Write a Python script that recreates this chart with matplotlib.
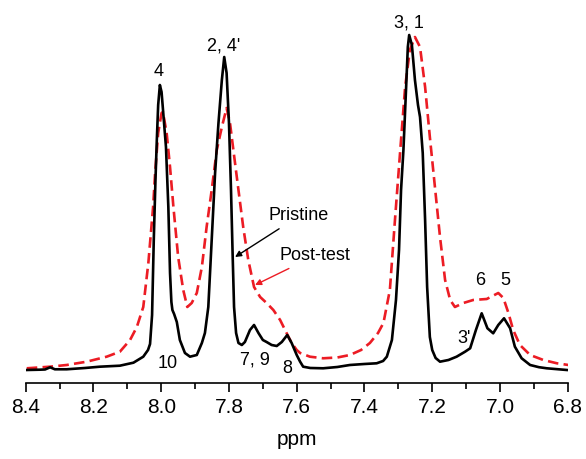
import matplotlib
matplotlib.use('Agg')
import matplotlib.pyplot as plt
from matplotlib.ticker import MultipleLocator

plt.rcParams['font.family'] = ['Liberation Sans', 'DejaVu Sans']

# ─── Spectra (chemical shift in ppm, intensity in arbitrary units) ─────
pristine_ppm = [8.397, 8.358, 8.343, 8.328, 8.314, 8.279, 8.225, 8.181, 8.122,
                8.082, 8.053, 8.039, 8.033, 8.027, 8.022, 8.017, 8.013, 8.009,
                8.004, 7.999, 7.994, 7.986, 7.979, 7.974, 7.970, 7.967, 7.962,
                7.954, 7.945, 7.930, 7.915, 7.895, 7.880, 7.871, 7.861, 7.851,
                7.841, 7.831, 7.821, 7.814, 7.807, 7.800, 7.794, 7.789, 7.785,
                7.779, 7.772, 7.762, 7.753, 7.738, 7.726, 7.713, 7.700, 7.689,
                7.674, 7.659, 7.644, 7.628, 7.615, 7.600, 7.590, 7.581, 7.560,
                7.522, 7.480, 7.443, 7.400, 7.364, 7.345, 7.334, 7.319, 7.307,
                7.298, 7.292, 7.285, 7.277, 7.272, 7.268, 7.260, 7.251, 7.242,
                7.236, 7.228, 7.221, 7.215, 7.207, 7.200, 7.190, 7.177, 7.152,
                7.128, 7.103, 7.088, 7.071, 7.054, 7.037, 7.020, 7.005, 6.988,
                6.970, 6.956, 6.936, 6.911, 6.885, 6.862, 6.803]
pristine_int = [0, 0.3, 0.5, 2.7, 0.7, 0.7, 2, 3.3, 4.3,
                7.3, 13.3, 20, 26, 55, 130, 190, 230, 265,
                285, 278, 257, 223, 163, 97, 68, 60, 56,
                48, 30, 17, 13.3, 15, 27, 37, 63, 130,
                197, 247, 290, 313, 297, 247, 180, 113, 63,
                37, 27, 25, 28, 40, 45, 37, 30, 28,
                25, 24, 28, 35, 27, 15, 8.3, 3.3, 2,
                1.7, 3, 5, 6, 6.7, 9, 13.3, 30, 70,
                120, 180, 220, 283, 323, 335, 325, 290, 265,
                253, 217, 150, 83, 33, 20, 12, 8.3, 10,
                13.3, 18.3, 21.7, 40, 56.7, 41.7, 36.7, 45, 51.7,
                41.7, 23.3, 11.7, 5, 2.8, 1.7, 0]

posttest_ppm = [8.397, 8.328, 8.279, 8.220, 8.161, 8.122, 8.092, 8.072, 8.053,
                8.038, 8.024, 8.018, 8.009, 7.999, 7.995, 7.984, 7.974, 7.964,
                7.950, 7.935, 7.923, 7.910, 7.895, 7.880, 7.866, 7.851, 7.836,
                7.821, 7.807, 7.797, 7.787, 7.772, 7.758, 7.743, 7.726, 7.708,
                7.689, 7.669, 7.649, 7.630, 7.615, 7.600, 7.590, 7.561, 7.522,
                7.480, 7.443, 7.410, 7.384, 7.360, 7.344, 7.325, 7.310, 7.295,
                7.280, 7.266, 7.251, 7.236, 7.221, 7.207, 7.192, 7.177, 7.162,
                7.147, 7.133, 7.108, 7.079, 7.039, 7.005, 6.990, 6.975, 6.961,
                6.941, 6.911, 6.872, 6.832, 6.798]
posttest_int = [1.7, 3.3, 5, 8.3, 13.3, 18.3, 30, 43, 63,
                107, 163, 197, 237, 257, 258, 237, 203, 163,
                113, 80, 63, 67, 77, 103, 143, 180, 220,
                243, 262, 247, 220, 180, 143, 110, 83, 73,
                67, 60, 50, 37, 27, 20, 17, 13.3, 11.7,
                12.5, 15, 20, 27, 37, 47, 80, 150, 217,
                283, 320, 333, 323, 283, 233, 183, 133, 90,
                70, 63, 67, 70, 71, 77, 72, 57, 40,
                25, 15, 10, 6.7, 5]

# ─── Figure ────────────────────────────────────────────────────────────
fig = plt.figure(figsize=(5.86, 4.59), dpi=100)
ax = fig.add_axes([0.0439, 0.1656, 0.9249, 0.8235])

red = '#ec1c24'
ax.plot(posttest_ppm, posttest_int, color=red, lw=1.9, dashes=(4, 2), zorder=2)
ax.plot(pristine_ppm, pristine_int, color='black', lw=1.9, zorder=3)

# peak assignments
peak_labels = [
    ('4', 8.009, 299), ('2, 4\'', 7.817, 324), ('3, 1', 7.270, 347),
    ('10', 7.981, 6), ('7, 9', 7.723, 10), ('8', 7.629, 1),
    ('3\'', 7.106, 31), ('6', 7.059, 89), ('5', 6.985, 89),
]
for txt, x, y in peak_labels:
    ax.text(x, y, txt, ha='center', va='center', fontsize=13)

# curve callouts
ax.annotate('Pristine', xy=(7.782, 113), xytext=(7.682, 154),
            fontsize=13, ha='left', va='center',
            arrowprops=dict(arrowstyle='-|>', color='black', lw=1.0,
                            mutation_scale=9, shrinkA=2, shrinkB=0))
ax.annotate('Post-test', xy=(7.723, 85), xytext=(7.652, 114),
            fontsize=13, ha='left', va='center',
            arrowprops=dict(arrowstyle='-|>', color=red, lw=1.0,
                            mutation_scale=9, shrinkA=2, shrinkB=0))

# ─── Axes ──────────────────────────────────────────────────────────────
ax.set_xlim(8.4, 6.8)
ax.set_ylim(-13, 365)
for side in ('top', 'left', 'right'):
    ax.spines[side].set_visible(False)
ax.spines['bottom'].set_linewidth(1.2)
ax.set_yticks([])
ax.xaxis.set_major_locator(MultipleLocator(0.2))
ax.xaxis.set_minor_locator(MultipleLocator(0.1))
ax.xaxis.set_major_formatter(matplotlib.ticker.FormatStrFormatter('%.1f'))
ax.tick_params(axis='x', which='major', length=6.5, width=1.2, labelsize=15, pad=4)
ax.tick_params(axis='x', which='minor', length=4, width=1.2)
ax.set_xlabel('ppm', fontsize=15, labelpad=10)
ax.patch.set_visible(False)

fig.savefig('out.png', dpi=100, facecolor='white')
plt.close()
